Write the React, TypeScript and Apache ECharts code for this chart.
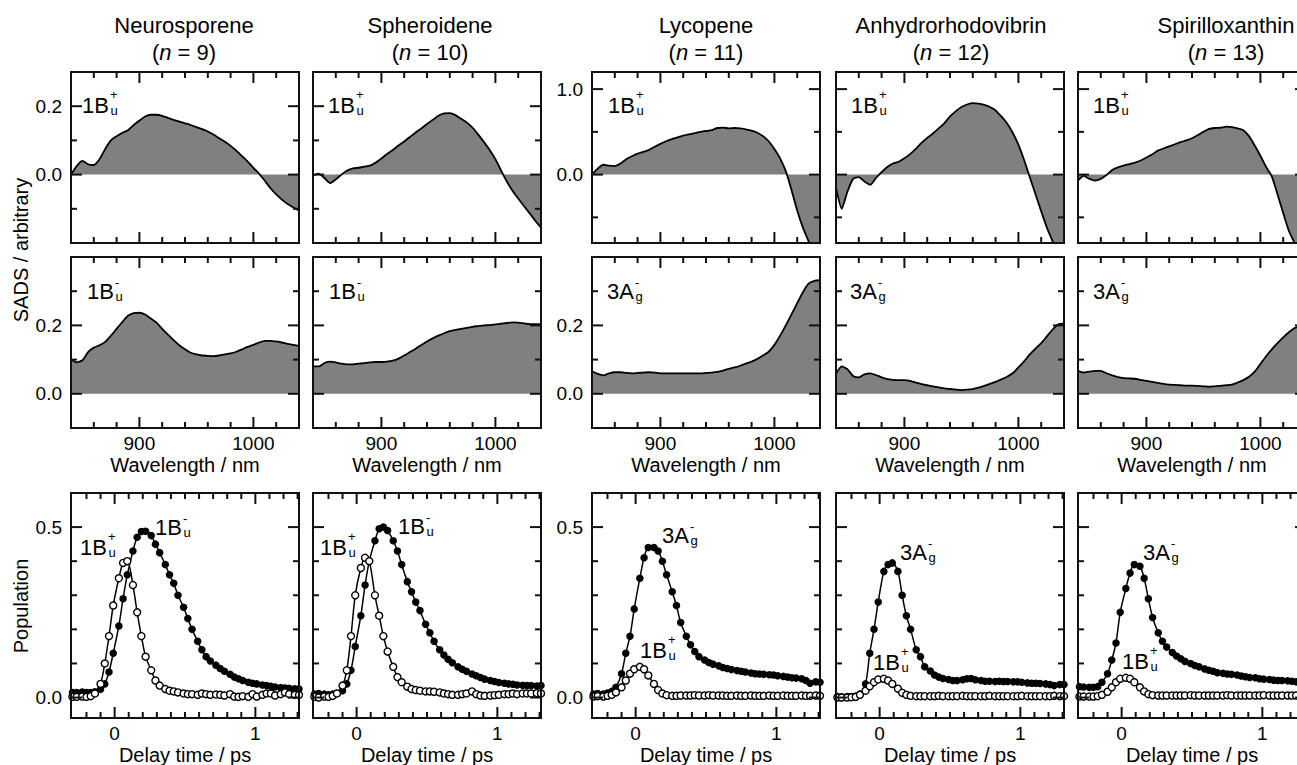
import React, { useEffect, useRef } from "react";
import * as echarts from "echarts";

// ---------- data ----------
const WL = [840, 845, 850, 855, 860, 865, 870, 875, 880, 885, 890, 895, 900, 905, 910, 915, 920, 925, 930, 935, 940, 945, 950, 955, 960, 965, 970, 975, 980, 985, 990, 995, 1000, 1005, 1010, 1015, 1020, 1025, 1030, 1035, 1040];

const neuro1Bp = [0, 0.025, 0.04, 0.03, 0.028, 0.045, 0.075, 0.1, 0.112, 0.122, 0.13, 0.145, 0.158, 0.17, 0.175, 0.175, 0.172, 0.166, 0.16, 0.155, 0.15, 0.145, 0.139, 0.133, 0.126, 0.117, 0.106, 0.096, 0.084, 0.07, 0.054, 0.038, 0.02, 0.003, -0.018, -0.04, -0.058, -0.073, -0.086, -0.096, -0.105];
const spher1Bp = [-0.003, 0.003, -0.01, -0.025, -0.014, 0, 0.012, 0.018, 0.02, 0.023, 0.026, 0.035, 0.047, 0.06, 0.072, 0.085, 0.097, 0.11, 0.123, 0.135, 0.148, 0.16, 0.172, 0.179, 0.18, 0.174, 0.163, 0.152, 0.137, 0.117, 0.095, 0.072, 0.045, 0.012, -0.02, -0.047, -0.07, -0.092, -0.113, -0.135, -0.155];
const lyco1Bp = [0, 0.07, 0.115, 0.105, 0.1, 0.13, 0.18, 0.215, 0.245, 0.265, 0.29, 0.325, 0.36, 0.39, 0.415, 0.435, 0.455, 0.47, 0.485, 0.5, 0.51, 0.52, 0.545, 0.55, 0.54, 0.545, 0.54, 0.53, 0.515, 0.49, 0.45, 0.39, 0.3, 0.19, 0.04, -0.18, -0.42, -0.62, -0.78, -0.95, -1.1];
const anhy1Bp = [-0.15, -0.4, -0.2, -0.05, -0.03, -0.08, -0.12, -0.04, 0.03, 0.09, 0.13, 0.15, 0.19, 0.24, 0.3, 0.37, 0.43, 0.48, 0.54, 0.6, 0.68, 0.74, 0.79, 0.82, 0.835, 0.83, 0.815, 0.79, 0.75, 0.68, 0.6, 0.49, 0.35, 0.17, -0.03, -0.23, -0.43, -0.62, -0.78, -0.95, -1.1];
const spir1Bp = [-0.07, -0.015, -0.05, -0.07, -0.05, -0.005, 0.055, 0.085, 0.105, 0.122, 0.14, 0.165, 0.2, 0.235, 0.28, 0.305, 0.33, 0.355, 0.38, 0.4, 0.425, 0.46, 0.5, 0.535, 0.545, 0.548, 0.56, 0.555, 0.54, 0.52, 0.45, 0.34, 0.22, 0.09, -0.02, -0.23, -0.45, -0.66, -0.8, -0.97, -1.1];

const neuro1Bm = [0.1, 0.092, 0.098, 0.122, 0.135, 0.142, 0.152, 0.17, 0.19, 0.21, 0.228, 0.236, 0.237, 0.232, 0.22, 0.208, 0.19, 0.173, 0.157, 0.142, 0.13, 0.12, 0.115, 0.112, 0.111, 0.11, 0.112, 0.115, 0.118, 0.123, 0.13, 0.137, 0.143, 0.15, 0.155, 0.155, 0.153, 0.15, 0.146, 0.143, 0.14];
const spher1Bm = [0.08, 0.08, 0.09, 0.094, 0.092, 0.088, 0.086, 0.086, 0.088, 0.09, 0.092, 0.093, 0.093, 0.094, 0.097, 0.103, 0.112, 0.122, 0.132, 0.143, 0.153, 0.162, 0.17, 0.177, 0.183, 0.187, 0.19, 0.193, 0.196, 0.198, 0.2, 0.201, 0.203, 0.205, 0.207, 0.209, 0.208, 0.206, 0.204, 0.204, 0.204];
const lyco3Ag = [0.066, 0.058, 0.054, 0.06, 0.063, 0.063, 0.061, 0.06, 0.061, 0.062, 0.063, 0.062, 0.06, 0.06, 0.06, 0.06, 0.06, 0.06, 0.06, 0.06, 0.061, 0.062, 0.064, 0.068, 0.073, 0.077, 0.082, 0.088, 0.094, 0.102, 0.112, 0.123, 0.143, 0.17, 0.2, 0.232, 0.265, 0.297, 0.322, 0.33, 0.332];
const anhy3Ag = [0.058, 0.08, 0.072, 0.052, 0.048, 0.057, 0.06, 0.055, 0.048, 0.043, 0.041, 0.04, 0.04, 0.038, 0.033, 0.028, 0.025, 0.022, 0.019, 0.016, 0.014, 0.012, 0.011, 0.012, 0.014, 0.018, 0.023, 0.029, 0.035, 0.042, 0.05, 0.06, 0.077, 0.095, 0.115, 0.132, 0.148, 0.168, 0.188, 0.203, 0.205];
const spir3Ag = [0.067, 0.062, 0.065, 0.067, 0.067, 0.06, 0.054, 0.049, 0.046, 0.045, 0.044, 0.041, 0.038, 0.035, 0.032, 0.029, 0.027, 0.026, 0.025, 0.024, 0.024, 0.023, 0.022, 0.021, 0.022, 0.023, 0.025, 0.027, 0.033, 0.04, 0.05, 0.065, 0.087, 0.11, 0.13, 0.148, 0.165, 0.18, 0.192, 0.199, 0.203];

const T = [-0.3, -0.27, -0.23, -0.2, -0.17, -0.14, -0.1, -0.07, -0.04, -0.01, 0.03, 0.06, 0.09, 0.13, 0.16, 0.19, 0.22, 0.26, 0.29, 0.32, 0.36, 0.39, 0.42, 0.45, 0.49, 0.52, 0.55, 0.59, 0.62, 0.65, 0.68, 0.72, 0.75, 0.78, 0.82, 0.85, 0.88, 0.91, 0.95, 0.98, 1.01, 1.05, 1.08, 1.11, 1.14, 1.18, 1.21, 1.24, 1.28, 1.31];

const neuroPopFilled = [0.015, 0.015, 0.016, 0.015, 0.015, 0.017, 0.024, 0.04, 0.075, 0.13, 0.21, 0.29, 0.36, 0.43, 0.47, 0.487, 0.488, 0.475, 0.45, 0.425, 0.39, 0.36, 0.335, 0.3, 0.265, 0.232, 0.2, 0.165, 0.14, 0.12, 0.107, 0.095, 0.085, 0.077, 0.068, 0.06, 0.055, 0.05, 0.045, 0.042, 0.04, 0.037, 0.035, 0.033, 0.031, 0.029, 0.028, 0.027, 0.026, 0.025];
const neuroPopOpen = [0.002, 0.002, 0.003, 0.002, 0.004, 0.012, 0.04, 0.1, 0.18, 0.27, 0.35, 0.395, 0.4, 0.33, 0.25, 0.18, 0.12, 0.08, 0.05, 0.035, 0.025, 0.02, 0.018, 0.015, 0.012, 0.01, 0.01, 0.008, 0.012, 0.01, 0.008, 0.009, 0.008, 0.006, 0.01, 0.003, 0.002, 0.004, 0.002, 0.01, 0.003, 0.008, 0.012, 0.012, 0.006, 0.01, 0.015, 0.01, 0.008, 0.008];
const spherPopFilled = [0.01, 0.012, 0.01, 0.008, 0.01, 0.012, 0.02, 0.04, 0.08, 0.15, 0.24, 0.33, 0.4, 0.46, 0.495, 0.5, 0.49, 0.46, 0.43, 0.39, 0.34, 0.31, 0.28, 0.255, 0.215, 0.19, 0.165, 0.14, 0.125, 0.112, 0.102, 0.09, 0.083, 0.077, 0.069, 0.064, 0.059, 0.054, 0.05, 0.047, 0.044, 0.042, 0.04, 0.039, 0.037, 0.036, 0.035, 0.035, 0.034, 0.035];
const spherPopOpen = [0.002, 0, 0.003, 0.002, 0.005, 0.012, 0.035, 0.08, 0.18, 0.3, 0.38, 0.41, 0.4, 0.3, 0.24, 0.18, 0.135, 0.09, 0.06, 0.045, 0.032, 0.025, 0.022, 0.02, 0.018, 0.018, 0.017, 0.015, 0.012, 0.01, 0.008, 0.008, 0.01, 0.012, 0.018, 0.01, 0.006, 0.005, 0.006, 0.007, 0.008, 0.01, 0.01, 0.012, 0.01, 0.012, 0.012, 0.012, 0.013, 0.012];
const lycoPopFilled = [0.01, 0.012, 0.01, 0.013, 0.018, 0.03, 0.07, 0.13, 0.18, 0.26, 0.35, 0.41, 0.44, 0.44, 0.43, 0.4, 0.36, 0.31, 0.27, 0.22, 0.18, 0.155, 0.135, 0.12, 0.11, 0.103, 0.098, 0.093, 0.088, 0.085, 0.082, 0.079, 0.077, 0.075, 0.072, 0.07, 0.069, 0.068, 0.067, 0.066, 0.064, 0.062, 0.06, 0.058, 0.057, 0.055, 0.05, 0.042, 0.046, 0.045];
const lycoPopOpen = [0.003, 0.004, 0.003, 0.005, 0.008, 0.015, 0.03, 0.05, 0.07, 0.083, 0.09, 0.083, 0.065, 0.04, 0.022, 0.012, 0.007, 0.005, 0.005, 0.006, 0.006, 0.006, 0.007, 0.006, 0.006, 0.007, 0.006, 0.006, 0.006, 0.005, 0.005, 0.006, 0.005, 0.005, 0.006, 0.005, 0.005, 0.005, 0.006, 0.005, 0.005, 0.006, 0.005, 0.005, 0.005, 0.006, 0.005, 0.005, 0.006, 0.005];
const anhyPopFilled = [0.003, 0.002, 0.003, 0.003, 0.004, 0.01, 0.04, 0.13, 0.2, 0.28, 0.37, 0.39, 0.395, 0.37, 0.3, 0.24, 0.2, 0.14, 0.12, 0.09, 0.078, 0.066, 0.06, 0.056, 0.053, 0.05, 0.05, 0.052, 0.055, 0.056, 0.052, 0.05, 0.048, 0.048, 0.047, 0.048, 0.047, 0.047, 0.046, 0.046, 0.045, 0.043, 0.042, 0.042, 0.041, 0.04, 0.038, 0.035, 0.038, 0.038];
const anhyPopOpen = [0, 0, 0, 0.001, 0.002, 0.008, 0.02, 0.033, 0.045, 0.053, 0.055, 0.05, 0.04, 0.026, 0.014, 0.008, 0.005, 0.004, 0.004, 0.004, 0.004, 0.004, 0.005, 0.004, 0.004, 0.004, 0.004, 0.005, 0.004, 0.004, 0.004, 0.004, 0.004, 0.005, 0.004, 0.004, 0.004, 0.004, 0.004, 0.004, 0.005, 0.004, 0.004, 0.004, 0.004, 0.004, 0.004, 0.005, 0.004, 0.004];
const spirPopFilled = [0.032, 0.031, 0.03, 0.03, 0.032, 0.045, 0.07, 0.11, 0.16, 0.25, 0.32, 0.365, 0.39, 0.385, 0.35, 0.29, 0.235, 0.19, 0.165, 0.148, 0.132, 0.122, 0.114, 0.106, 0.1, 0.094, 0.09, 0.084, 0.08, 0.077, 0.073, 0.071, 0.069, 0.068, 0.066, 0.063, 0.061, 0.059, 0.058, 0.055, 0.054, 0.053, 0.051, 0.05, 0.05, 0.049, 0.048, 0.046, 0.045, 0.044];
const spirPopOpen = [0.003, 0.003, 0.003, 0.003, 0.004, 0.008, 0.017, 0.03, 0.045, 0.055, 0.058, 0.055, 0.045, 0.03, 0.018, 0.01, 0.007, 0.006, 0.006, 0.006, 0.006, 0.006, 0.006, 0.006, 0.007, 0.006, 0.006, 0.006, 0.006, 0.006, 0.006, 0.006, 0.007, 0.006, 0.006, 0.006, 0.006, 0.006, 0.006, 0.006, 0.007, 0.006, 0.006, 0.006, 0.006, 0.006, 0.006, 0.006, 0.007, 0.006];

const TITLES = ["Neurosporene", "Spheroidene", "Lycopene", "Anhydrorhodovibrin", "Spirilloxanthin"];
const N_VALUES = ["9", "10", "11", "12", "13"];

const NM_MAJOR = [900, 1000];
const NM_MINOR = [860, 880, 920, 940, 960, 980, 1020];
const PS_MAJOR = [0, 1];
const PS_MINOR = [-0.2, -0.1, 0.1, 0.2, 0.3, 0.4, 0.5, 0.6, 0.7, 0.8, 0.9, 1.1, 1.2, 1.3];

// ---------- layout ----------
const FONT = "'Liberation Sans', Arial, Helvetica, sans-serif";
const COL_LEFT = [71, 313, 592, 836, 1078];
const PANEL_W = 228;
const ROW_TOP = [72, 257, 493];
const ROW_H = [171, 171, 225];
const TITLE_X = [184, 430, 706, 951, 1226];

type AxisSpec = {
  min: number;
  max: number;
  majors: number[];
  minors: number[];
  labels: number[] | null;
  fmt: (v: number) => string;
  name?: string;
};

const f1 = (v: number) => v.toFixed(1);
const f0 = (v: number) => String(Math.round(v));

function makeAxis(dim: "x" | "y", grid: number, s: AxisSpec) {
  const ax: any = {
    type: "value",
    gridIndex: grid,
    position: dim === "x" ? "bottom" : "left",
    min: s.min,
    max: s.max,
    axisLine: { show: false, onZero: false },
    axisTick: { show: false },
    axisLabel: s.labels
      ? { show: true, customValues: s.labels, formatter: (v: number) => s.fmt(v), fontSize: 19, fontFamily: FONT, color: "#000", margin: dim === "x" ? 6 : 9 }
      : { show: false },
    splitLine: { show: false },
  };
  if (s.name) {
    ax.name = s.name;
    ax.nameLocation = "middle";
    ax.nameGap = 27;
    ax.nameTextStyle = { fontSize: 20, fontFamily: FONT, color: "#000" };
  }
  return ax;
}

// y ticks + frame, drawn through the grid's coordinate system
function yTickSeries(g: number, ys: AxisSpec, xMid: number) {
  const data: number[][] = [];
  ys.majors.forEach((v) => data.push([xMid, v, 1]));
  ys.minors.forEach((v) => data.push([xMid, v, 0]));
  data.push([xMid, 0, 2]);
  return {
    type: "custom",
    xAxisIndex: g,
    yAxisIndex: g,
    silent: true,
    clip: false,
    z: 10,
    dimensions: ["x", "y", "k"],
    encode: { x: 0, y: 1 },
    data,
    renderItem: (params: any, api: any) => {
      const cs = params.coordSys;
      const k = api.value(2);
      if (k === 2) {
        return { type: "rect", shape: { x: cs.x, y: cs.y, width: cs.width, height: cs.height }, style: { fill: "none", stroke: "#111", lineWidth: 2 } };
      }
      const pt = api.coord([api.value(0), api.value(1)]);
      const len = k === 1 ? 11 : 6;
      const py = pt[1];
      return {
        type: "group",
        children: [
          { type: "line", shape: { x1: cs.x, y1: py, x2: cs.x + len, y2: py }, style: { stroke: "#111", lineWidth: 2 } },
          { type: "line", shape: { x1: cs.x + cs.width, y1: py, x2: cs.x + cs.width - len, y2: py }, style: { stroke: "#111", lineWidth: 2 } },
        ],
      };
    },
  };
}

function stateLabel(x: number, y: number, main: string, sup: string, sub: string) {
  const supDy = sup === "+" ? -11 : -9;
  return [
    { type: "text", x, y, z: 100, style: { text: main, fontSize: 22, fontFamily: FONT, fill: "#000", align: "left", verticalAlign: "middle" } },
    { type: "text", x: x + 28, y: y + supDy, z: 100, style: { text: sup, fontSize: 13, fontFamily: FONT, fill: "#000", align: "left", verticalAlign: "middle" } },
    { type: "text", x: x + 28.5, y: y + 5, z: 100, style: { text: sub, fontSize: 13, fontFamily: FONT, fill: "#000", align: "left", verticalAlign: "middle" } },
  ];
}

type Panel = { g: number; xs: AxisSpec; ys: AxisSpec };

function buildOption() {
  const grids: any[] = [];
  const xAxes: any[] = [];
  const yAxes: any[] = [];
  const series: any[] = [];
  const graphic: any[] = [];
  const panels: Panel[] = [];

  const row1 = [neuro1Bp, spher1Bp, lyco1Bp, anhy1Bp, spir1Bp];
  const row2 = [neuro1Bm, spher1Bm, lyco3Ag, anhy3Ag, spir3Ag];
  const popFilled = [neuroPopFilled, spherPopFilled, lycoPopFilled, anhyPopFilled, spirPopFilled];
  const popOpen = [neuroPopOpen, spherPopOpen, lycoPopOpen, anhyPopOpen, spirPopOpen];

  for (let r = 0; r < 3; r++) {
    for (let c = 0; c < 5; c++) {
      const g = r * 5 + c;
      grids.push({ left: COL_LEFT[c], top: ROW_TOP[r], width: PANEL_W, height: ROW_H[r], outerBoundsMode: "none", containLabel: false });
      const showY = c === 0 || c === 2;
      let xs: AxisSpec;
      let ys: AxisSpec;
      if (r < 2) {
        xs = { min: 840, max: 1040, majors: NM_MAJOR, minors: NM_MINOR, labels: r === 1 ? NM_MAJOR : null, fmt: f0, name: r === 1 ? "Wavelength / nm" : undefined };
      } else {
        xs = { min: -0.31, max: 1.31, majors: PS_MAJOR, minors: PS_MINOR, labels: PS_MAJOR, fmt: f0, name: "Delay time / ps" };
      }
      if (r === 0) {
        ys = c < 2
          ? { min: -0.2, max: 0.3, majors: [0, 0.2], minors: [-0.1, 0.1], labels: showY ? [0, 0.2] : null, fmt: f1 }
          : { min: -0.8, max: 1.2, majors: [0, 1], minors: [-0.5, 0.5], labels: showY ? [0, 1] : null, fmt: f1 };
      } else if (r === 1) {
        ys = { min: -0.1, max: 0.4, majors: [0, 0.2], minors: [0.1, 0.3], labels: showY ? [0, 0.2] : null, fmt: f1 };
      } else {
        ys = { min: -0.06, max: 0.6, majors: [0, 0.5], minors: [0.1, 0.2, 0.3, 0.4], labels: showY ? [0, 0.5] : null, fmt: f1 };
      }
      panels.push({ g, xs, ys });
      xAxes.push(makeAxis("x", g, xs));
      yAxes.push(makeAxis("y", g, ys));
      if (r < 2) {
        const arr = r === 0 ? row1[c] : row2[c];
        series.push({
          type: "line",
          xAxisIndex: g,
          yAxisIndex: g,
          data: WL.map((w, i) => [w, arr[i]]),
          symbol: "none",
          showSymbol: false,
          smooth: 0.2,
          silent: true,
          lineStyle: { color: "#000", width: 1.8 },
          areaStyle: { color: "#808080", opacity: 1 },
        });
      } else {
        series.push({
          type: "line",
          xAxisIndex: g,
          yAxisIndex: g,
          data: T.map((t, i) => [t, popFilled[c][i]]),
          symbol: "circle",
          symbolSize: 7.5,
          showSymbol: true,
          smooth: 0.3,
          silent: true,
          z: 3,
          lineStyle: { color: "#000", width: 1.5 },
          itemStyle: { color: "#000" },
        });
        series.push({
          type: "line",
          xAxisIndex: g,
          yAxisIndex: g,
          data: T.map((t, i) => [t, popOpen[c][i]]),
          symbol: "circle",
          symbolSize: 7,
          showSymbol: true,
          smooth: 0.3,
          silent: true,
          z: 4,
          lineStyle: { color: "#000", width: 1.5 },
          itemStyle: { color: "#fff", borderColor: "#000", borderWidth: 1.4 },
        });
      }
      series.push(yTickSeries(g, ys, (xs.min + xs.max) / 2));
    }
  }

  // titles
  for (let c = 0; c < 5; c++) {
    graphic.push({ type: "text", x: TITLE_X[c], y: 25, z: 100, style: { text: TITLES[c], fontSize: 22, fontFamily: FONT, fill: "#000", align: "center", verticalAlign: "middle" } });
    graphic.push({
      type: "text",
      x: TITLE_X[c],
      y: 52,
      z: 100,
      style: {
        text: "({i|n} = " + N_VALUES[c] + ")",
        fontSize: 22,
        fontFamily: FONT,
        fill: "#000",
        align: "center",
        verticalAlign: "middle",
        rich: { i: { fontStyle: "italic", fontSize: 22, fontFamily: FONT, fill: "#000" } },
      },
    });
  }

  // state labels
  const row1X = [82, 328, 608, 851, 1093];
  const row2X = [87, 329, 607, 850, 1093];
  for (let c = 0; c < 5; c++) {
    graphic.push(...stateLabel(row1X[c], 105, "1B", "+", "u"));
    if (c < 2) graphic.push(...stateLabel(row2X[c], 291, "1B", "-", "u"));
    else graphic.push(...stateLabel(row2X[c], 291, "3A", "-", "g"));
  }
  graphic.push(...stateLabel(80, 547, "1B", "+", "u"));
  graphic.push(...stateLabel(155, 527, "1B", "-", "u"));
  graphic.push(...stateLabel(320, 547, "1B", "+", "u"));
  graphic.push(...stateLabel(398, 526, "1B", "-", "u"));
  graphic.push(...stateLabel(662, 535, "3A", "-", "g"));
  graphic.push(...stateLabel(640, 650, "1B", "+", "u"));
  graphic.push(...stateLabel(900, 552, "3A", "-", "g"));
  graphic.push(...stateLabel(873, 662, "1B", "+", "u"));
  graphic.push(...stateLabel(1143, 552, "3A", "-", "g"));
  graphic.push(...stateLabel(1122, 661, "1B", "+", "u"));

  // y-axis titles
  graphic.push({ type: "text", x: 21, y: 250, rotation: Math.PI / 2, z: 100, style: { text: "SADS / arbitrary", fontSize: 20, fontFamily: FONT, fill: "#000", align: "center", verticalAlign: "middle" } });
  graphic.push({ type: "text", x: 21, y: 606, rotation: Math.PI / 2, z: 100, style: { text: "Population", fontSize: 20, fontFamily: FONT, fill: "#000", align: "center", verticalAlign: "middle" } });

  return {
    option: {
      animation: false,
      backgroundColor: "#fff",
      grid: grids,
      xAxis: xAxes,
      yAxis: yAxes,
      series,
      graphic,
    },
    panels,
  };
}

export default function App() {
  const ref = useRef<HTMLDivElement | null>(null);
  useEffect(() => {
    if (!ref.current) return;
    const chart = echarts.init(ref.current, undefined, { renderer: "svg" });
    const { option, panels } = buildOption();
    chart.setOption(option as any);
    // x-axis ticks on top and bottom edges, positioned through the axes' own scales
    const tickEls: any[] = [];
    panels.forEach((p) => {
      const yBot = chart.convertToPixel({ gridIndex: p.g } as any, [p.xs.min, p.ys.min]) as number[];
      const yTop = chart.convertToPixel({ gridIndex: p.g } as any, [p.xs.min, p.ys.max]) as number[];
      const add = (v: number, len: number) => {
        const pt = chart.convertToPixel({ gridIndex: p.g } as any, [v, p.ys.min]) as number[];
        const px = pt[0];
        tickEls.push({ type: "line", z: 50, silent: true, shape: { x1: px, y1: yBot[1], x2: px, y2: yBot[1] - len }, style: { stroke: "#111", lineWidth: 2 } });
        tickEls.push({ type: "line", z: 50, silent: true, shape: { x1: px, y1: yTop[1], x2: px, y2: yTop[1] + len }, style: { stroke: "#111", lineWidth: 2 } });
      };
      p.xs.majors.forEach((v) => add(v, 11));
      p.xs.minors.forEach((v) => add(v, 6));
    });
    chart.setOption({ graphic: [...(option.graphic as any[]), ...tickEls] } as any);
    return () => chart.dispose();
  }, []);
  return (
    <div
      ref={ref}
      style={{ position: "fixed", left: 0, top: 0, width: 1310, height: 765, background: "#fff" }}
    />
  );
}
